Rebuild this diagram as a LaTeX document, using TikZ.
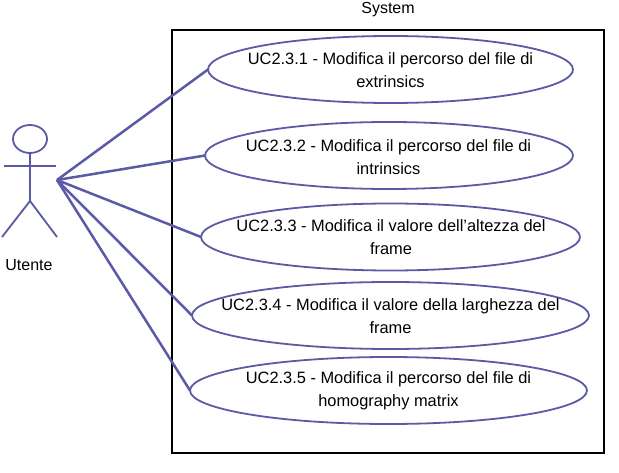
\documentclass[tikz,border=0pt]{standalone}
\usepackage{fontspec}
\setmainfont{Liberation Sans}
\usetikzlibrary{shapes.geometric}
\definecolor{umlblue}{RGB}{90,90,165}
\tikzset{
  usecase/.style={draw=umlblue, line width=1.8pt, ellipse, inner sep=0pt, outer sep=0pt, minimum height=67pt},
  uctext/.style={align=center, inner sep=0pt, font=\fontsize{16.4}{23}\selectfont},
  assoc/.style={color=umlblue, line width=2.5pt},
  actorline/.style={color=umlblue, line width=1.8pt},
  plainlabel/.style={font=\fontsize{16}{23}\selectfont}
}
\begin{document}
\begin{tikzpicture}[x=1pt,y=-1pt]
  \useasboundingbox (0,0) rectangle (619,473);

  \draw [black, line width=2pt] (172,30) rectangle (604,453);
  \node [plainlabel] (systemlabel) at (388,10) {System};

  \node [usecase, minimum width=365pt] (uc1) at (390.5,69.5) {};
  \node [usecase, minimum width=368pt] (uc2) at (389,155.5) {};
  \node [usecase, minimum width=379pt] (uc3) at (390.5,237) {};
  \node [usecase, minimum width=397pt] (uc4) at (390.5,315.5) {};
  \node [usecase, minimum width=397pt] (uc5) at (388.5,390.5) {};

  \node [uctext] (uc1text) at (390.5,70.5) {UC2.3.1 - Modifica il percorso del file di\\extrinsics};
  \node [uctext] (uc2text) at (388.5,157) {UC2.3.2 - Modifica il percorso del file di\\intrinsics};
  \node [uctext] (uc3text) at (391,237.5) {UC2.3.3 - Modifica il valore dell'altezza del\\frame};
  \node [uctext] (uc4text) at (390.5,316) {UC2.3.4 - Modifica il valore della larghezza del\\frame};
  \node [uctext] (uc5text) at (388.5,391) {UC2.3.5 - Modifica il percorso del file di\\homography matrix};

  % actor
  \node [draw=umlblue, line width=1.8pt, ellipse, minimum width=34pt, minimum height=28pt, inner sep=0pt, outer sep=0pt] (head) at (30,139) {};
  \coordinate (hip) at (30,201);
  \coordinate (armleft) at (4,166);
  \coordinate (armright) at (56,166);
  \coordinate (footleft) at (2,237);
  \coordinate (footright) at (57,237);
  \draw [actorline] (head.south) -- (hip);
  \draw [actorline] (armleft) -- (armright);
  \draw [actorline] (footleft) -- (hip) -- (footright);
  \node [plainlabel] (utente) at (29,265.5) {Utente};

  % associations
  \coordinate (hand) at (57,180);
  \draw [assoc] (hand) -- (uc1.west);
  \draw [assoc] (hand) -- (uc2.west);
  \draw [assoc] (hand) -- (uc3.west);
  \draw [assoc] (hand) -- (uc4.west);
  \draw [assoc] (hand) -- (uc5.west);
\end{tikzpicture}
\end{document}
